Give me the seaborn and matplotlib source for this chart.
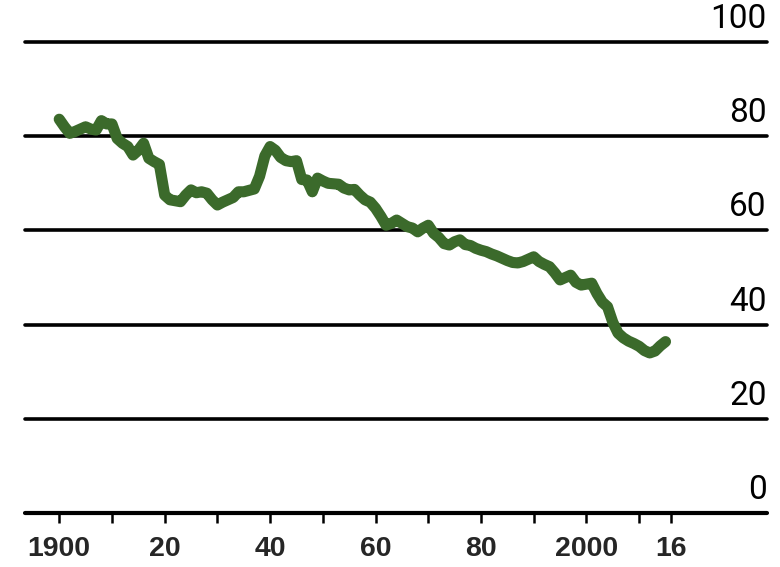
import matplotlib
matplotlib.use("Agg")
import matplotlib.pyplot as plt
import pandas as pd
import seaborn as sns

# Valores
years = [1900, 1901, 1902, 1903, 1905, 1906, 1907, 1908, 1909, 1910,
         1911, 1912, 1913, 1914, 1915, 1916, 1917, 1918, 1919, 1920,
         1921, 1922, 1923, 1924, 1925, 1926, 1927, 1928, 1929, 1930,
         1931, 1932, 1933, 1934, 1935, 1937, 1938, 1939, 1940, 1941,
         1942, 1943, 1944, 1945, 1946, 1947, 1948, 1949, 1950, 1951,
         1952, 1953, 1954, 1955, 1956, 1957, 1958, 1959, 1960, 1961,
         1962, 1963, 1964, 1965, 1966, 1967, 1968, 1969, 1970, 1971,
         1972, 1973, 1974, 1975, 1976, 1977, 1978, 1979, 1980, 1981,
         1982, 1983, 1984, 1985, 1986, 1987, 1988, 1989, 1990, 1991,
         1992, 1993, 1994, 1995, 1996, 1997, 1998, 1999, 2000, 2001,
         2002, 2003, 2004, 2005, 2006, 2007, 2008, 2009, 2010, 2011,
         2012, 2013, 2014, 2015]
values = [83.6, 82.0, 80.6, 81.0, 82.0, 81.5, 81.3, 83.3, 82.6, 82.6,
          79.5, 78.5, 77.8, 76.0, 77.0, 78.5, 75.3, 74.6, 74.0, 67.5,
          66.5, 66.3, 66.1, 67.5, 68.6, 68.0, 68.2, 67.9, 66.5, 65.4,
          66.0, 66.5, 67.0, 68.2, 68.2, 68.8, 71.5, 75.8, 77.8, 77.0,
          75.5, 74.8, 74.6, 74.8, 70.8, 70.7, 68.2, 71.1, 70.5, 70.0,
          69.9, 69.8, 69.0, 68.6, 68.7, 67.5, 66.5, 66.0, 64.7, 63.0,
          61.1, 61.5, 62.2, 61.5, 60.8, 60.5, 59.7, 60.5, 61.1, 59.4,
          58.5, 57.2, 56.9, 57.6, 58.0, 57.0, 56.8, 56.2, 55.8, 55.5,
          55.0, 54.6, 54.1, 53.6, 53.2, 53.1, 53.4, 53.9, 54.4, 53.4,
          52.8, 52.3, 51.0, 49.5, 50.0, 50.5, 49.0, 48.4, 48.6, 48.8,
          46.6, 44.8, 43.8, 40.5, 38.2, 37.2, 36.5, 36.0, 35.4, 34.5,
          34.0, 34.4, 35.5, 36.4]

y_levels = [0, 20, 40, 60, 80, 100]
x_major = [1900, 1920, 1940, 1960, 1980, 2000, 2016]
x_labels = ["1900", "20", "40", "60", "80", "2000", "16"]
x_minor = [1910, 1930, 1950, 1970, 1990, 2010]

GREEN = "#3b6a2b"


def make_chart():
    sns.set_style("white")
    plt.rcParams["font.family"] = ["Liberation Sans", "DejaVu Sans"]

    df = pd.DataFrame({"year": years, "value": values})

    fig = plt.figure(figsize=(7.8, 5.67), dpi=100)
    ax = fig.add_axes([0.032, 0.095, 0.951, 0.831])

    # líneas horizontales con su etiqueta encima, a la derecha
    for lvl in y_levels:
        ax.axhline(lvl, color="black", lw=2.6 if lvl else 3.0, zorder=1,
                   clip_on=False)
        ax.text(1.0, lvl + 1.5, str(lvl), transform=ax.get_yaxis_transform(),
                ha="right", va="bottom", fontsize=24, color="black",
                family=["Roboto", "DejaVu Sans"])

    sns.lineplot(data=df, x="year", y="value", ax=ax, color=GREEN,
                 lw=8, solid_capstyle="round", solid_joinstyle="round",
                 zorder=3)

    ax.set_xlim(1893.5, 2034.2)
    ax.set_ylim(0, 100)
    for s in ax.spines.values():
        s.set_visible(False)
    ax.set_yticks([])
    ax.set_xlabel("")
    ax.set_ylabel("")

    ax.set_xticks(x_major)
    ax.set_xticklabels(x_labels, fontsize=20.5, fontweight="bold")
    ax.set_xticks(x_minor, minor=True)
    ax.tick_params(axis="x", which="both", direction="out", length=7.5,
                   width=1.8, color="black", pad=9, bottom=True)

    fig.savefig("out.png", dpi=100)


if __name__ == "__main__":
    make_chart()
